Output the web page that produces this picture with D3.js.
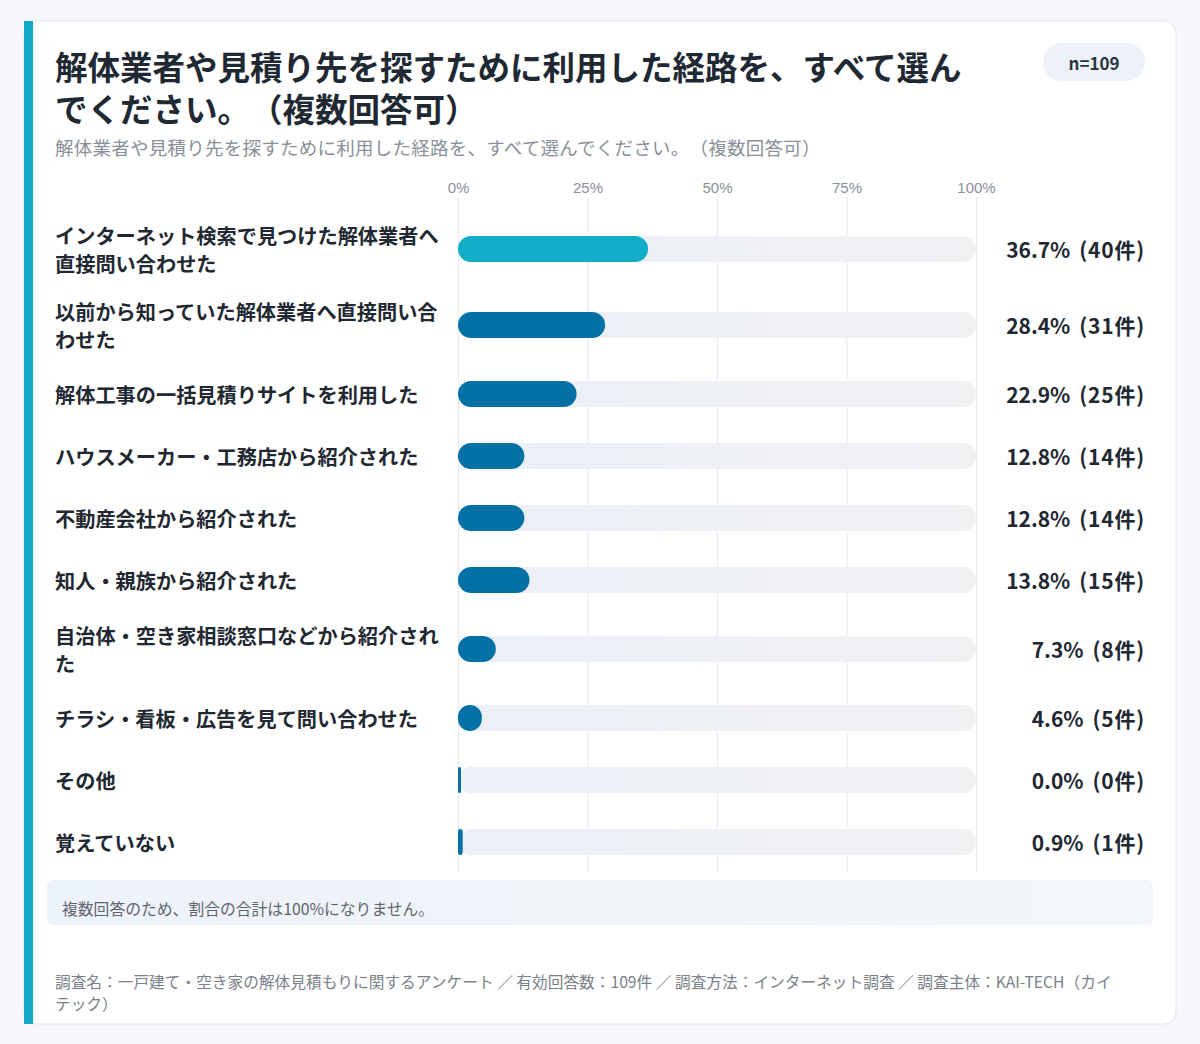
<!DOCTYPE html>
<html lang="ja">
<head>
<meta charset="utf-8">
<script src="https://cdn.jsdelivr.net/npm/d3@7"></script>
<style>
  body { margin: 0; background: #f6f7fb; }
  svg { display: block; font-family: "Noto Sans CJK JP", "Noto Sans", sans-serif; text-spacing-trim: space-all; }
</style>
</head>
<body>
<svg id="chart"></svg>
<script>
const width = 1200;
const height = 1044;

const titleText = "解体業者や見積り先を探すために利用した経路を、すべて選んでください。（複数回答可）";
const subtitleText = "解体業者や見積り先を探すために利用した経路を、すべて選んでください。（複数回答可）";
const sampleLabel = "n=109";
const noteText = "複数回答のため、割合の合計は100%になりません。";
const footerText = "調査名：一戸建て・空き家の解体見積もりに関するアンケート ／ 有効回答数：109件 ／ 調査方法：インターネット調査 ／ 調査主体：KAI-TECH（カイテック）";

const categories = [
  "インターネット検索で見つけた解体業者へ直接問い合わせた",
  "以前から知っていた解体業者へ直接問い合わせた",
  "解体工事の一括見積りサイトを利用した",
  "ハウスメーカー・工務店から紹介された",
  "不動産会社から紹介された",
  "知人・親族から紹介された",
  "自治体・空き家相談窓口などから紹介された",
  "チラシ・看板・広告を見て問い合わせた",
  "その他",
  "覚えていない"
];
const percents = [36.7, 28.4, 22.9, 12.8, 12.8, 13.8, 7.3, 4.6, 0.0, 0.9];
const counts = [40, 31, 25, 14, 14, 15, 8, 5, 0, 1];
const tickValues = [0, 25, 50, 75, 100];

const data = categories.map((c, i) => ({ name: c, pct: percents[i], n: counts[i], i }));

const svg = d3.select("#chart").attr("width", width).attr("height", height);

const defs = svg.append("defs");
const trackGrad = defs.append("linearGradient").attr("id", "track");
trackGrad.append("stop").attr("offset", "0%").attr("stop-color", "#ebf0f7");
trackGrad.append("stop").attr("offset", "100%").attr("stop-color", "#f1f1f4");
const noteGrad = defs.append("linearGradient").attr("id", "note");
noteGrad.append("stop").attr("offset", "0%").attr("stop-color", "#edf3fa");
noteGrad.append("stop").attr("offset", "100%").attr("stop-color", "#f3f6fa");

// card
svg.append("rect")
  .attr("x", 24).attr("y", 21).attr("width", 1152).attr("height", 1003)
  .attr("rx", 12).attr("fill", "#fff").attr("stroke", "#e4e6ee");
svg.append("rect")
  .attr("x", 24).attr("y", 21).attr("width", 9).attr("height", 1003)
  .attr("fill", "#12a9c6");

// char-by-char wrapping using measured text
const measurer = svg.append("text").attr("visibility", "hidden");
function wrap(str, maxW, size, weight, spacing) {
  measurer.attr("font-size", size).attr("font-weight", weight).attr("letter-spacing", spacing || 0);
  const lines = [];
  let cur = "";
  for (const ch of str) {
    const test = cur + ch;
    measurer.text(test);
    if (measurer.node().getComputedTextLength() > maxW && cur) {
      lines.push(cur);
      cur = ch;
    } else cur = test;
  }
  if (cur) lines.push(cur);
  return lines;
}

// title
const titleLines = wrap(titleText, 930, 32.5, 700);
svg.append("text")
  .attr("font-size", 32.5).attr("font-weight", 700).attr("fill", "#1f2933")
  .selectAll("tspan").data(titleLines).join("tspan")
  .attr("x", 55).attr("y", (d, i) => 65 + i * 42).attr("dominant-baseline", "central")
  .text(d => d);

svg.append("text")
  .attr("x", 55).attr("y", 147).attr("dominant-baseline", "central")
  .attr("font-size", 18.5).attr("letter-spacing", 0.25).attr("fill", "#8a8f98")
  .text(subtitleText);

// n pill
svg.append("rect")
  .attr("x", 1043).attr("y", 43).attr("width", 102).attr("height", 38)
  .attr("rx", 19).attr("fill", "#edf2f8");
svg.append("text")
  .attr("x", 1094).attr("y", 62).attr("text-anchor", "middle").attr("dominant-baseline", "central")
  .attr("font-size", 17).attr("font-weight", 700).attr("fill", "#2b333d")
  .text(sampleLabel);

// rows: height depends on wrapped label
const labelSize = 20.2;
const lineH = 28;
const rowGap = 20;
data.forEach(d => { d.lines = wrap(d.name, 392, labelSize, 700); });
let acc = 221;
const centers = data.map(d => {
  const h = d.lines.length > 1 ? d.lines.length * lineH : 42;
  const c = acc + h / 2;
  acc += h + rowGap;
  return c;
});

const x = d3.scaleLinear().domain([0, 100]).range([458, 976]);
const y = d3.scaleOrdinal().domain(categories).range(centers);
const barH = 26;

// grid
svg.append("g")
  .attr("transform", "translate(0,197)")
  .call(d3.axisBottom(x).tickValues(tickValues).tickSize(675).tickFormat(""))
  .call(g => g.select(".domain").remove())
  .call(g => g.selectAll("line").attr("stroke", "#e7e8ee"));

// axis labels
svg.append("g")
  .attr("transform", "translate(0,187)")
  .call(d3.axisTop(x).tickValues(tickValues).tickSize(0).tickPadding(0).tickFormat(d => d + "%"))
  .call(g => g.select(".domain").remove())
  .call(g => g.selectAll("text")
    .attr("font-family", null).attr("font-size", 15).attr("fill", "#8b8f98")
    .attr("dy", null).attr("dominant-baseline", "central"));

const rows = svg.append("g").selectAll("g").data(data).join("g");

rows.append("rect")
  .attr("x", x(0)).attr("y", d => y(d.name) - barH / 2)
  .attr("width", x(100) - x(0)).attr("height", barH)
  .attr("rx", barH / 2).attr("fill", "url(#track)");

rows.append("rect")
  .attr("x", x(0)).attr("y", d => y(d.name) - barH / 2)
  .attr("width", d => Math.max(3, x(d.pct) - x(0))).attr("height", barH)
  .attr("rx", d => Math.min(barH / 2, Math.max(1.5, (x(d.pct) - x(0)) / 2)))
  .attr("fill", d => d.i === 0 ? "#12adc6" : "#0370a6");

rows.append("text")
  .attr("font-size", labelSize).attr("font-weight", 700).attr("fill", "#222831")
  .selectAll("tspan").data(d => d.lines.map((l, k) => ({ l, k, d }))).join("tspan")
  .attr("x", 55)
  .attr("y", t => y(t.d.name) + (t.k - (t.d.lines.length - 1) / 2) * lineH)
  .attr("dominant-baseline", "central")
  .text(t => t.l);

const vals = rows.append("text")
  .attr("x", 1145).attr("y", d => y(d.name))
  .attr("text-anchor", "end").attr("dominant-baseline", "central")
  .attr("font-size", 21).attr("font-weight", 700).attr("fill", "#222831");
vals.append("tspan").text(d => `${d.pct.toFixed(1)}%`);
vals.append("tspan").attr("dx", 9).attr("letter-spacing", 0.8).text(d => `(${d.n}件)`);

// note box
svg.append("rect")
  .attr("x", 47).attr("y", 880).attr("width", 1106).attr("height", 45)
  .attr("rx", 6).attr("fill", "url(#note)");
svg.append("text")
  .attr("x", 62).attr("y", 908).attr("dominant-baseline", "central")
  .attr("font-size", 15.8).attr("fill", "#5f646c")
  .text(noteText);

// footer
const footLines = wrap(footerText, 1068, 15.7, 400);
svg.append("text")
  .attr("font-size", 15.7).attr("fill", "#7b8089")
  .selectAll("tspan").data(footLines).join("tspan")
  .attr("x", 55).attr("y", (d, i) => 981 + i * 22).attr("dominant-baseline", "central")
  .text(d => d);

measurer.remove();
</script>
</body>
</html>
